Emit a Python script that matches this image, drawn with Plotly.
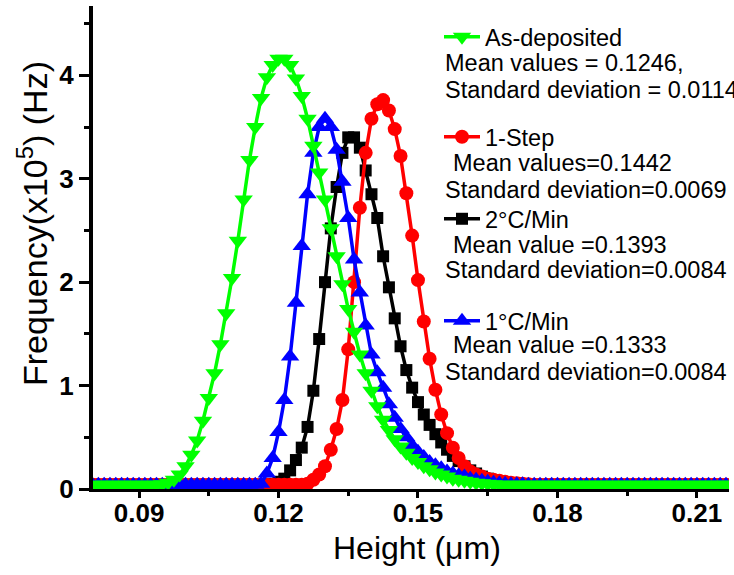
import plotly.graph_objects as go

# ---------------- data ----------------
HEIGHT_UM = [
    0.08, 0.08125, 0.0825, 0.08375, 0.085, 0.08625, 0.0875, 0.08875, 0.09, 0.09125,
    0.0925, 0.09375, 0.095, 0.09625, 0.0975, 0.09875, 0.1, 0.10125, 0.1025, 0.10375,
    0.105, 0.10625, 0.1075, 0.10875, 0.11, 0.11125, 0.1125, 0.11375, 0.115, 0.11625,
    0.1175, 0.11875, 0.12, 0.12125, 0.1225, 0.12375, 0.125, 0.12625, 0.1275, 0.12875,
    0.13, 0.13125, 0.1325, 0.13375, 0.135, 0.13625, 0.1375, 0.13875, 0.14, 0.14125,
    0.1425, 0.14375, 0.145, 0.14625, 0.1475, 0.14875, 0.15, 0.15125, 0.1525, 0.15375,
    0.155, 0.15625, 0.1575, 0.15875, 0.16, 0.16125, 0.1625, 0.16375, 0.165, 0.16625,
    0.1675, 0.16875, 0.17, 0.17125, 0.1725, 0.17375, 0.175, 0.17625, 0.1775, 0.17875,
    0.18, 0.18125, 0.1825, 0.18375, 0.185, 0.18625, 0.1875, 0.18875, 0.19, 0.19125,
    0.1925, 0.19375, 0.195, 0.19625, 0.1975, 0.19875, 0.2, 0.20125, 0.2025, 0.20375,
    0.205, 0.20625, 0.2075, 0.20875, 0.21, 0.21125, 0.2125, 0.21375, 0.215, 0.21625,
    0.2175,
]

AS_DEPOSITED = [
    0.04, 0.04, 0.04, 0.04, 0.04, 0.04, 0.04, 0.04, 0.04, 0.04,
    0.04, 0.04, 0.045, 0.06, 0.09, 0.14, 0.22, 0.33, 0.47, 0.66,
    0.88, 1.12, 1.40, 1.70, 2.04, 2.40, 2.80, 3.18, 3.50, 3.78,
    3.98, 4.10, 4.16, 4.16, 4.10, 3.97, 3.80, 3.58, 3.32, 3.06,
    2.80, 2.52, 2.25, 1.98, 1.74, 1.52, 1.30, 1.12, 0.95, 0.80,
    0.67, 0.57, 0.48, 0.41, 0.35, 0.30, 0.26, 0.22, 0.19, 0.16,
    0.14, 0.12, 0.10, 0.09, 0.08, 0.07, 0.06, 0.055, 0.05, 0.045,
    0.04, 0.04, 0.04, 0.04, 0.04, 0.04, 0.04, 0.04, 0.04, 0.04,
    0.04, 0.04, 0.04, 0.04, 0.04, 0.04, 0.04, 0.04, 0.04, 0.04,
    0.04, 0.04, 0.04, 0.04, 0.04, 0.04, 0.04, 0.04, 0.04, 0.04,
    0.04, 0.04, 0.04, 0.04, 0.04, 0.04, 0.04, 0.04, 0.04, 0.04,
    0.04,
]

ONE_STEP = [
    0.04, 0.04, 0.04, 0.04, 0.04, 0.04, 0.04, 0.04, 0.04, 0.04,
    0.04, 0.04, 0.04, 0.04, 0.04, 0.04, 0.04, 0.04, 0.04, 0.04,
    0.04, 0.04, 0.04, 0.04, 0.04, 0.04, 0.04, 0.04, 0.04, 0.04,
    0.04, 0.04, 0.04, 0.04, 0.04, 0.04, 0.04, 0.05, 0.09, 0.14,
    0.22, 0.38, 0.58, 0.86, 1.35, 2.00, 2.72, 3.25, 3.58, 3.72,
    3.76, 3.66, 3.48, 3.22, 2.86, 2.45, 2.02, 1.62, 1.26, 0.96,
    0.72, 0.54, 0.40, 0.30, 0.22, 0.17, 0.14, 0.12, 0.10, 0.09,
    0.08, 0.07, 0.06, 0.055, 0.05, 0.045, 0.04, 0.04, 0.04, 0.04,
    0.04, 0.04, 0.04, 0.04, 0.04, 0.04, 0.04, 0.04, 0.04, 0.04,
    0.04, 0.04, 0.04, 0.04, 0.04, 0.04, 0.04, 0.04, 0.04, 0.04,
    0.04, 0.04, 0.04, 0.04, 0.04, 0.04, 0.04, 0.04, 0.04, 0.04,
    0.04,
]

RATE_2C = [
    0.04, 0.04, 0.04, 0.04, 0.04, 0.04, 0.04, 0.04, 0.04, 0.04,
    0.04, 0.04, 0.04, 0.04, 0.04, 0.04, 0.04, 0.04, 0.04, 0.04,
    0.04, 0.04, 0.04, 0.04, 0.04, 0.04, 0.04, 0.04, 0.04, 0.04,
    0.04, 0.05, 0.07, 0.10, 0.18, 0.28, 0.40, 0.60, 0.95, 1.45,
    2.00, 2.52, 2.92, 3.25, 3.40, 3.40, 3.30, 3.08, 2.85, 2.62,
    2.25, 1.95, 1.65, 1.38, 1.15, 0.98, 0.84, 0.72, 0.62, 0.53,
    0.45, 0.38, 0.32, 0.27, 0.22, 0.18, 0.15, 0.12, 0.10, 0.08,
    0.07, 0.06, 0.055, 0.05, 0.045, 0.04, 0.04, 0.04, 0.04, 0.04,
    0.04, 0.04, 0.04, 0.04, 0.04, 0.04, 0.04, 0.04, 0.04, 0.04,
    0.04, 0.04, 0.04, 0.04, 0.04, 0.04, 0.04, 0.04, 0.04, 0.04,
    0.04, 0.04, 0.04, 0.04, 0.04, 0.04, 0.04, 0.04, 0.04, 0.04,
    0.04,
]

RATE_1C = [
    0.04, 0.04, 0.04, 0.04, 0.04, 0.04, 0.04, 0.04, 0.04, 0.04,
    0.04, 0.04, 0.04, 0.04, 0.04, 0.04, 0.04, 0.04, 0.04, 0.04,
    0.04, 0.04, 0.04, 0.04, 0.04, 0.04, 0.04, 0.04, 0.04, 0.05,
    0.15, 0.30, 0.55, 0.86, 1.28, 1.80, 2.35, 2.85, 3.25, 3.50,
    3.58, 3.50, 3.28, 2.97, 2.62, 2.22, 1.90, 1.58, 1.30, 1.13,
    0.98, 0.82, 0.69, 0.58, 0.50, 0.42, 0.36, 0.31, 0.26, 0.23,
    0.20, 0.17, 0.15, 0.13, 0.12, 0.10, 0.09, 0.08, 0.07, 0.06,
    0.055, 0.05, 0.045, 0.045, 0.045, 0.04, 0.04, 0.04, 0.04, 0.04,
    0.04, 0.04, 0.04, 0.04, 0.04, 0.04, 0.04, 0.04, 0.04, 0.04,
    0.04, 0.04, 0.04, 0.04, 0.04, 0.04, 0.04, 0.04, 0.04, 0.04,
    0.04, 0.04, 0.04, 0.04, 0.04, 0.04, 0.04, 0.04, 0.04, 0.04,
    0.04,
]

SERIES_NAMES = ["2°C/Min", "1-Step", "1°C/Min", "As-deposited"]
STATS_TEXT = [
    "Mean values = 0.1246,",
    "Standard deviation = 0.0114",
    "Mean values=0.1442",
    "Standard deviation=0.0069",
    "Mean value =0.1393",
    "Standard deviation=0.0084",
    "Mean value =0.1333",
    "Standard deviation=0.0084",
]
X_TICKS = [0.09, 0.12, 0.15, 0.18, 0.21]
Y_TICKS = [0, 1, 2, 3, 4]

# ---------------- figure ----------------
FONT = "Liberation Sans, Arial, sans-serif"
W, H = 734, 575
ML, MR, MT, MB = 93, 5, 6, 86
PW, PH = W - ML - MR, H - MT - MB
TXT = 23.5

styles = [
    (RATE_2C, "#000000", "square", 12, "legend3"),
    (ONE_STEP, "#FF0000", "circle", 14, "legend2"),
    (RATE_1C, "#0000FF", "triangle-up", 16, "legend4"),
    (AS_DEPOSITED, "#00FF00", "triangle-down", 16, "legend"),
]

fig = go.Figure()
for name, (vals, color, sym, size, leg) in zip(SERIES_NAMES, styles):
    fig.add_trace(go.Scatter(
        x=HEIGHT_UM, y=vals, name=name, mode="lines+markers",
        line=dict(color=color, width=3.5),
        marker=dict(symbol=sym, size=size, color=color),
        legend=leg, showlegend=True,
    ))


def px_x(px):
    return (px - ML) / PW


def px_y(py):
    return (H - MB - py) / PH


legend_common = dict(
    xref="paper", yref="paper", xanchor="left", yanchor="middle",
    bgcolor="rgba(0,0,0,0)", borderwidth=0, itemwidth=36, visible=True,
    font=dict(family=FONT, size=TXT, color="black"),
)
lx = px_x(439)
fig.update_layout(
    showlegend=True,
    legend=dict(x=lx, y=px_y(37), **legend_common),
    legend2=dict(x=lx, y=px_y(137), **legend_common),
    legend3=dict(x=lx, y=px_y(219), **legend_common),
    legend4=dict(x=lx, y=px_y(321), **legend_common),
)

stat_pos = [(443, 63), (443, 90), (451, 163), (443, 190),
            (451, 245), (443, 270), (451, 345), (443, 372)]
annotations = []
for txt, (ax, ay) in zip(STATS_TEXT, stat_pos):
    annotations.append(dict(
        text=txt, x=px_x(ax), y=px_y(ay), xref="paper", yref="paper",
        xanchor="left", yanchor="middle", showarrow=False,
        font=dict(family=FONT, size=TXT, color="black"),
    ))

annotations.append(dict(
    text="Frequency(x10<sup>5</sup>) (Hz)", textangle=-90,
    x=px_x(32), y=px_y(224), xref="paper", yref="paper",
    xanchor="center", yanchor="middle", showarrow=False,
    font=dict(family=FONT, size=34, color="black"),
))
annotations.append(dict(
    text="Height (μm)",
    x=px_x(417), y=px_y(548), xref="paper", yref="paper",
    xanchor="center", yanchor="middle", showarrow=False,
    font=dict(family=FONT, size=32, color="black"),
))

fig.update_layout(
    width=W, height=H,
    margin=dict(l=ML, r=MR, t=MT, b=MB, pad=0, autoexpand=False),
    paper_bgcolor="white", plot_bgcolor="white",
    annotations=annotations,
    xaxis=dict(
        range=[0.0801, 0.2169], tickmode="array", tickvals=X_TICKS,
        ticktext=[f"{v:.2f}" for v in X_TICKS],
        ticks="outside", ticklen=6, tickwidth=3, tickcolor="black",
        ticklabelstandoff=-7,
        showline=True, linewidth=3, linecolor="black",
        showgrid=False, zeroline=False, automargin=False,
        minor=dict(ticks="outside", ticklen=4, tickwidth=3, tickcolor="black",
                   tickvals=[0.105, 0.135, 0.165, 0.195]),
        tickfont=dict(family=FONT, size=26, color="black", weight="bold"),
    ),
    yaxis=dict(
        range=[0, 4.67], tickmode="array", tickvals=Y_TICKS,
        ticktext=[str(v) for v in Y_TICKS],
        ticks="outside", ticklen=10, tickwidth=3, tickcolor="black",
        showline=True, linewidth=4, linecolor="black",
        showgrid=False, zeroline=False, automargin=False,
        minor=dict(ticks="outside", ticklen=5, tickwidth=3, tickcolor="black",
                   tickvals=[0.5, 1.5, 2.5, 3.5, 4.5]),
        tickfont=dict(family=FONT, size=26, color="black", weight="bold"),
    ),
)

fig.write_html("out.html", config={"displayModeBar": False},
               post_script="document.body.style.margin='0';")
